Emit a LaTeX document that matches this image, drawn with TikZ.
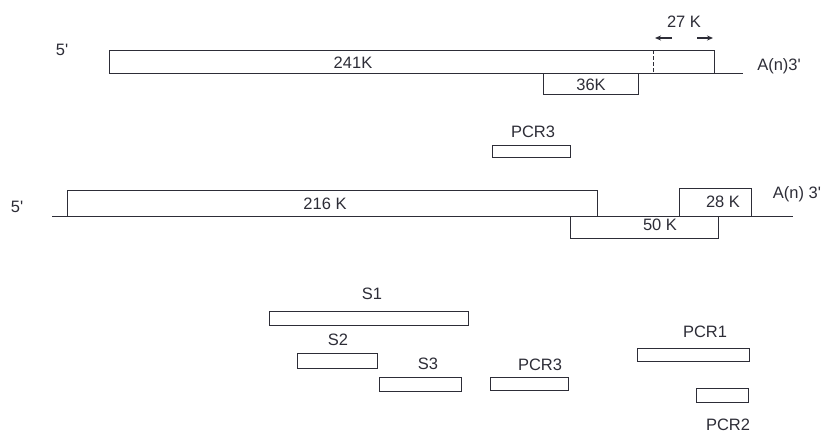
\documentclass[tikz,border=0pt]{standalone}
\usepackage{fontspec}
\setmainfont{Liberation Sans}[Ligatures=TeXOff]
\usetikzlibrary{arrows.meta}
\definecolor{inkgrey}{RGB}{45,45,55}
\tikzset{
  base/.style={font=\fontsize{16.5}{19}\selectfont, text=inkgrey, inner sep=0pt, anchor=base},
  seg/.style={draw=inkgrey, line width=0.9pt, inner sep=0pt, outer sep=0pt},
  strand/.style={draw=inkgrey, line width=0.9pt},
  arr/.style={-{Stealth[length=6pt,width=5pt]}, line width=1.1pt, draw=inkgrey},
}
\begin{document}
\begin{tikzpicture}[x=1pt,y=-1pt]
  \useasboundingbox (0,0) rectangle (827,434);
  % upper transcript
  \node[seg, minimum width=605, minimum height=23] (t241) at (411.5,61.5) {};
  \node[seg, minimum width=95, minimum height=21] (t36) at (590.5,83.5) {};
  \coordinate (cut27) at (653,50);
  \coordinate (tailA) at (743,73);
  \draw[strand, dashed, dash pattern=on 4pt off 2pt] (cut27) -- (cut27 |- t241.south);
  \draw[strand] (t241.south east) -- (tailA);
  \coordinate (a27l) at (672,38); \coordinate (a27le) at (655,38);
  \coordinate (a27r) at (697,38); \coordinate (a27re) at (713,38);
  \draw[arr] (a27l) -- (a27le);
  \draw[arr] (a27r) -- (a27re);
  \node[base] (p5a) at (62,55) {5'};
  \node[base] (l241) at (353,68) {241K};
  \node[base] (l36) at (591,90) {36K};
  \node[base] (l27) at (684,27) {27 K};
  \node[base] (polyA) at (779,70) {A(n)3'};
  % probe between
  \node[seg, minimum width=78, minimum height=12] (pcr3a) at (531,151) {};
  \node[base] (lpcr3a) at (533,137) {PCR3};
  % lower transcript
  \coordinate (strL) at (52,216);
  \coordinate (strR) at (793,216);
  \draw[strand] (strL) -- (strR);
  \node[seg, minimum width=530, minimum height=26] (t216) at (332,203) {};
  \node[seg, minimum width=72, minimum height=28] (t28) at (715,202) {};
  \node[seg, minimum width=148, minimum height=22] (t50) at (644,227) {};
  \node[base] (p5b) at (17,212) {5'};
  \node[base] (l216) at (325,209) {216 K};
  \node[base] (l28) at (723,207) {28 K};
  \node[base] (l50) at (660,230) {50 K};
  \node[base] (polyB) at (797,198) {A(n) 3'};
  % clones and PCR products
  \node[seg, minimum width=199, minimum height=14] (s1) at (368.5,318) {};
  \node[seg, minimum width=80, minimum height=15] (s2) at (337,360.5) {};
  \node[seg, minimum width=82, minimum height=14] (s3) at (420,384) {};
  \node[seg, minimum width=78, minimum height=13] (pcr3b) at (529,383.5) {};
  \node[seg, minimum width=112, minimum height=13] (pcr1) at (693,354.5) {};
  \node[seg, minimum width=52, minimum height=14] (pcr2) at (722,395) {};
  \node[base] (ls1) at (372,299) {S1};
  \node[base] (ls2) at (338,345) {S2};
  \node[base] (ls3) at (428,369) {S3};
  \node[base] (lpcr3b) at (540,370) {PCR3};
  \node[base] (lpcr1) at (705,337) {PCR1};
  \node[base] (lpcr2) at (728,430) {PCR2};
\end{tikzpicture}
\end{document}
